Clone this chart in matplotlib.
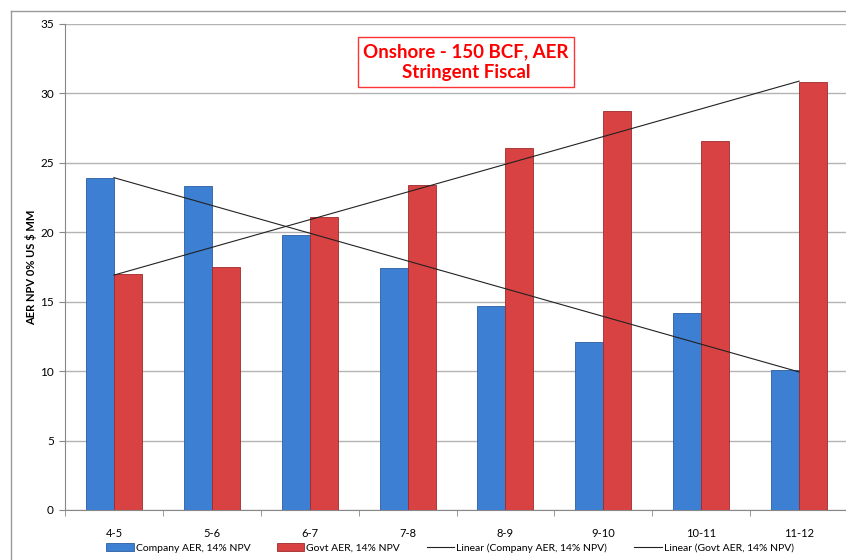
import numpy as np
import matplotlib.pyplot as plt
from matplotlib.lines import Line2D

plt.rcParams['font.family'] = ['Lato', 'DejaVu Sans']

# data
years = ['4-5', '5-6', '6-7', '7-8', '8-9', '9-10', '10-11', '11-12']
company = [23.9, 23.3, 19.8, 17.4, 14.7, 12.1, 14.2, 10.1]
govt = [17.0, 17.5, 21.1, 23.4, 26.1, 28.7, 26.6, 30.8]

W, H = 846, 560
fig = plt.figure(figsize=(W / 100, H / 100), dpi=100)
ax = fig.add_axes([65 / W, (H - 510) / H, (848 - 65) / W, (510 - 24) / H])

x = np.arange(len(years))
bw = 0.286
b1 = ax.bar(x - bw / 2, company, bw, color='#3d7fd3', edgecolor='#2b5e9e', linewidth=0.6,
            label='Company AER, 14% NPV', zorder=3)
b2 = ax.bar(x + bw / 2, govt, bw, color='#d94242', edgecolor='#9e2a2a', linewidth=0.6,
            label='Govt AER, 14% NPV', zorder=3)

# linear trendlines like excel
pc = np.polyfit(x, company, 1)
pg = np.polyfit(x, govt, 1)
l1, = ax.plot(x, np.polyval(pc, x), color='#222222', lw=0.8, zorder=4,
              label='Linear (Company AER, 14% NPV)')
l2, = ax.plot(x, np.polyval(pg, x), color='#222222', lw=0.8, zorder=4,
              label='Linear (Govt AER, 14% NPV)')

ax.set_xlim(-0.5, len(years) - 0.5)
ax.set_ylim(0, 35)
ax.set_yticks(range(0, 36, 5))
ax.yaxis.grid(True, color='#b3b3b3', lw=1)
ax.set_axisbelow(True)
ax.set_xticks(x)
ax.set_xticklabels(years, fontsize=8)
ax.set_xticks(np.arange(-0.5, len(years)), minor=True)
ax.tick_params(axis='x', which='major', length=0, pad=13)
ax.tick_params(axis='x', which='minor', length=4, color='#888888')
ax.tick_params(axis='y', labelsize=8.5, length=4, color='#888888', pad=4)
for s in ['top', 'right']:
    ax.spines[s].set_visible(False)
ax.spines['left'].set_color('#888888')
ax.spines['bottom'].set_color('#888888')

ax.set_ylabel('AER NPV 0% US $ MM', fontsize=8, fontweight='bold', labelpad=2)

ax.text(466 / W, 1 - 62 / H, 'Onshore - 150 BCF, AER\nStringent Fiscal', transform=fig.transFigure,
        ha='center', va='center', color='#ff0000', fontsize=13.5, fontweight='bold', linespacing=1.3,
        bbox=dict(boxstyle='square,pad=0.3', fc='white', ec='#ff3333', lw=1), zorder=6)

# outer chart border
fig.add_artist(Line2D([11 / W, 11 / W], [0, 1 - 11 / H], transform=fig.transFigure, color='#999999', lw=1))
fig.add_artist(Line2D([11 / W, 1], [1 - 11 / H, 1 - 11 / H], transform=fig.transFigure, color='#999999', lw=1))

fig.legend([b1, b2, l1, l2], [h.get_label() for h in [b1, b2, l1, l2]],
           loc='center', bbox_to_anchor=(450 / W, 1 - 548 / H), ncol=4, frameon=False, fontsize=7.5,
           handlelength=2.6, handleheight=0.8, columnspacing=2.6, handletextpad=0.2)

fig.savefig('out.png', dpi=100)
